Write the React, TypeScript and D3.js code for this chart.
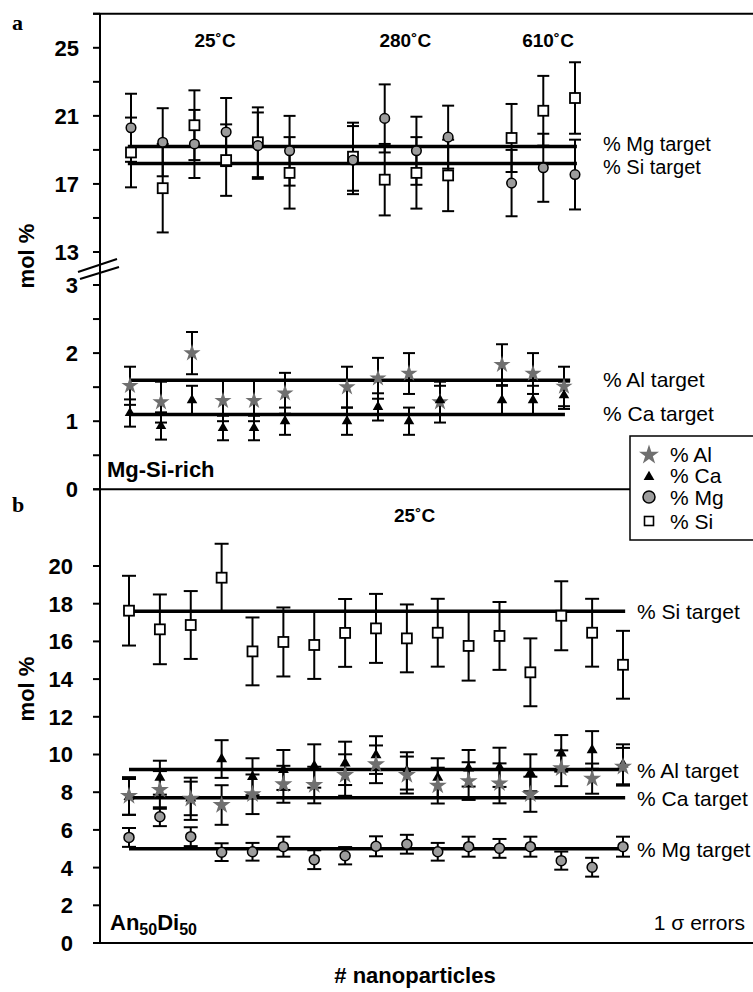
import React from "react";
import * as d3 from "d3";

// ---------- Panel a (Mg-Si-rich) ----------
const idxA = [0, 1, 2, 3, 4, 5, 7, 8, 9, 10, 12, 13, 14];
const mgA = [20.3, 19.45, 19.35, 20.05, 19.25, 18.95, 18.4, 20.85, 18.95, 19.75, 17.05, 17.95, 17.55];
const mgErrA = [2.0, 2.0, 2.0, 2.0, 1.95, 2.05, 2.0, 2.0, 2.0, 1.85, 1.95, 2.0, 2.05];
const siA = [18.85, 16.75, 20.45, 18.4, 19.45, 17.65, 18.6, 17.25, 17.65, 17.5, 19.7, 21.3, 22.05];
const siErrA = [2.05, 2.6, 2.05, 2.1, 2.05, 2.1, 2.0, 2.1, 2.1, 2.1, 2.0, 2.05, 2.1];
const alA = [1.52, 1.28, 2.0, 1.3, 1.3, 1.41, 1.5, 1.63, 1.7, 1.28, 1.83, 1.7, 1.51];
const alErrA = [0.28, 0.3, 0.31, 0.3, 0.3, 0.3, 0.3, 0.3, 0.3, 0.3, 0.3, 0.3, 0.29];
const caA = [1.12, 0.93, 1.31, 0.9, 0.9, 1.0, 1.0, 1.21, 1.0, 1.31, 1.31, 1.31, 1.38];
const caErrA = [0.2, 0.2, 0.21, 0.18, 0.18, 0.2, 0.2, 0.2, 0.2, 0.21, 0.21, 0.21, 0.2];
const targetNamesAU = ["% Mg target", "% Si target"];
const targetValsAU = [19.2, 18.2];
const targetNamesAL = ["% Al target", "% Ca target"];
const targetValsAL = [1.6, 1.1];
const tempLabelsA = ["25˚C", "280˚C", "610˚C"];
const tempIdxA = [2.65, 8.65, 13.15];
const ticksAU = [13, 15, 17, 19, 21, 23, 25, 27];
const labelsAU = [13, 17, 21, 25];
const ticksAL = [0, 0.5, 1, 1.5, 2, 2.5, 3];
const labelsAL = [0, 1, 2, 3];

// ---------- Panel b (An50Di50) ----------
const idxB = d3.range(17);
const siB = [17.63, 16.64, 16.87, 19.38, 15.47, 15.97, 15.81, 16.45, 16.69, 16.16, 16.46, 15.76, 16.29, 14.36, 17.36, 16.46, 14.76];
const siErrB = [1.85, 1.85, 1.8, 1.8, 1.8, 1.83, 1.8, 1.8, 1.83, 1.8, 1.8, 1.84, 1.8, 1.8, 1.83, 1.8, 1.8];
const alB = [7.8, 8.12, 7.65, 7.32, 7.89, 8.42, 8.38, 8.91, 9.48, 8.91, 8.35, 8.59, 8.47, 7.89, 9.27, 8.72, 9.35];
const alErrB = [1.0, 1.0, 1.12, 1.05, 1.05, 0.98, 0.97, 1.1, 1.0, 0.98, 0.95, 1.0, 1.06, 0.93, 0.95, 0.8, 1.0];
const caB = [7.75, 8.77, 7.67, 9.76, 8.82, 9.18, 9.39, 9.53, 9.97, 9.13, 8.77, 9.27, 9.32, 9.03, 10.06, 10.24, 9.48];
const caErrB = [0.95, 0.9, 0.89, 1.0, 0.98, 1.06, 1.15, 1.15, 1.0, 0.99, 1.03, 0.97, 1.04, 0.98, 0.97, 1.0, 1.06];
const mgB = [5.6, 6.7, 5.64, 4.82, 4.84, 5.11, 4.42, 4.63, 5.13, 5.24, 4.84, 5.11, 5.02, 5.11, 4.37, 4.02, 5.11];
const mgErrB = [0.5, 0.5, 0.5, 0.47, 0.47, 0.53, 0.5, 0.46, 0.53, 0.5, 0.47, 0.53, 0.5, 0.53, 0.48, 0.5, 0.53];
const targetNamesB = ["% Si target", "% Al target", "% Ca target", "% Mg target"];
const targetValsB = [17.6, 9.2, 7.7, 5.0];
const ticksB = [0, 2, 4, 6, 8, 10, 12, 14, 16, 18, 20];

const legendNames = ["% Al", "% Ca", "% Mg", "% Si"];

const SANS = "'Liberation Sans', Arial, Helvetica, sans-serif";
const SERIF = "'Liberation Serif', 'Times New Roman', serif";
const STAR_COLOR = "#6f6f6f";
const MG_COLOR = "#9c9c9c";

const starPath = (R: number) => d3.symbol(d3.symbolStar, (R * R) / 0.8908130915)() as string;
const triPath = (s: number) => d3.symbol(d3.symbolTriangle, s)() as string;

type EBProps = {
  idx: number[];
  vals: number[];
  errs: number[];
  x: (v: number) => number;
  y: (v: number) => number;
  cap: number;
};
function ErrorBars({ idx, vals, errs, x, y, cap }: EBProps) {
  return (
    <g stroke="#000" strokeWidth={2} fill="none">
      {idx.map((k, i) => {
        const cx = x(k);
        const y1 = y(vals[i] + errs[i]);
        const y2 = y(vals[i] - errs[i]);
        return (
          <g key={i}>
            <line x1={cx} x2={cx} y1={y1} y2={y2} />
            <line x1={cx - cap} x2={cx + cap} y1={y1} y2={y1} />
            <line x1={cx - cap} x2={cx + cap} y1={y2} y2={y2} />
          </g>
        );
      })}
    </g>
  );
}

export default function App() {
  const W = 753;
  const H = 992;
  const axisX = 100;

  // scales
  const yAU = d3.scaleLinear().domain([13, 25]).range([252, 47.8]);
  const yAL = d3.scaleLinear().domain([0, 3]).range([489.3, 285]);
  const yB = d3.scaleLinear().domain([0, 20]).range([943, 566]);
  const xAU = d3.scaleLinear().domain([0, 14]).range([131, 575]);
  const xAL = d3.scaleLinear().domain([0, 14]).range([130, 564]);
  const xB = d3.scaleLinear().domain([0, 16]).range([129, 623]);

  const yTop = yAU(27);
  const yMidLine = yAL(0);
  const yBottom = yB(0);

  const tickLen = 7;
  const labelFont = 22;

  const sq = (cx: number, cy: number, key: any, half = 5) => (
    <rect key={key} x={cx - half} y={cy - half} width={half * 2} height={half * 2} fill="#fff" stroke="#000" strokeWidth={1.8} />
  );

  // break position
  const brk1 = yAU(13) + 9;
  const brk2 = yAL(3) - 12;

  return (
    <svg width={W} height={H} style={{ position: "absolute", left: 0, top: 0, background: "#fff" }}>
      <rect x={0} y={0} width={W} height={H} fill="#fff" />

      {/* ===== Axes frame ===== */}
      <g stroke="#000" strokeWidth={2}>
        <line x1={axisX} x2={axisX} y1={yTop} y2={yBottom} />
        <line x1={axisX - tickLen} x2={W} y1={yTop} y2={yTop} />
        <line x1={axisX - tickLen} x2={630} y1={yMidLine} y2={yMidLine} />
        <line x1={axisX - tickLen} x2={W} y1={yBottom} y2={yBottom} />
      </g>

      {/* ticks */}
      <g stroke="#000" strokeWidth={2}>
        {ticksAU.map((t) => (
          <line key={"tu" + t} x1={axisX - tickLen} x2={axisX} y1={yAU(t)} y2={yAU(t)} />
        ))}
        {ticksAL.map((t) => (
          <line key={"tl" + t} x1={axisX - tickLen} x2={axisX} y1={yAL(t)} y2={yAL(t)} />
        ))}
        {ticksB.map((t) => (
          <line key={"tb" + t} x1={axisX - tickLen} x2={axisX} y1={yB(t)} y2={yB(t)} />
        ))}
      </g>
      {/* axis break marks */}
      <g stroke="#000" strokeWidth={2}>
        <line x1={78} y1={brk2 - 1} x2={117} y2={brk1 - 2} />
        <line x1={80} y1={brk2 + 6} x2={119} y2={brk1 + 6} />
      </g>

      {/* tick labels */}
      <g fontFamily={SANS} fontWeight="bold" fontSize={labelFont} fill="#000" textAnchor="end">
        {labelsAU.map((t) => (
          <text key={"lu" + t} x={79} y={yAU(t)} dy="0.36em">{t}</text>
        ))}
        {labelsAL.map((t) => (
          <text key={"ll" + t} x={78} y={yAL(t)} dy="0.36em">{t}</text>
        ))}
        {ticksB.map((t) => (
          <text key={"lb" + t} x={73} y={yB(t)} dy="0.36em">{t}</text>
        ))}
      </g>

      {/* y-axis titles */}
      <g fontFamily={SANS} fontWeight="bold" fontSize={22} fill="#000" textAnchor="middle">
        <text transform={`translate(34,256) rotate(-90)`}>mol %</text>
        <text transform={`translate(34,689) rotate(-90)`}>mol %</text>
      </g>

      {/* panel letters */}
      <g fontFamily={SERIF} fontWeight="bold" fontSize={22} fill="#000">
        <text x={12} y={30}>a</text>
        <text x={12} y={512}>b</text>
      </g>

      {/* temperature labels */}
      <g fontFamily={SANS} fontWeight="bold" fontSize={19} fill="#000" textAnchor="middle">
        {tempLabelsA.map((t, i) => (
          <text key={t} x={xAU(tempIdxA[i])} y={47}>{t}</text>
        ))}
        <text x={xB(9.25)} y={522}>25˚C</text>
      </g>

      {/* ===== targets ===== */}
      <g stroke="#000" strokeWidth={3.5}>
        {targetValsAU.map((v, i) => (
          <line key={"tau" + i} x1={xAU(-0.1)} x2={xAU(14.06)} y1={yAU(v)} y2={yAU(v)} />
        ))}
        {targetValsAL.map((v, i) => (
          <line key={"tal" + i} x1={xAL(0)} x2={xAL(i === 0 ? 14.2 : 14.03)} y1={yAL(v)} y2={yAL(v)} />
        ))}
        {targetValsB.map((v, i) => (
          <line key={"tb" + i} x1={xB(0)} x2={xB(16.07)} y1={yB(v)} y2={yB(v)} />
        ))}
      </g>
      <g fontFamily={SANS} fontSize={20} fill="#000">
        {targetNamesAU.map((n, i) => (
          <text key={n + "au"} x={603} y={yAU(targetValsAU[i]) + (i === 0 ? 5 : 10)}>{n}</text>
        ))}
      </g>
      <g fontFamily={SANS} fontSize={21} fill="#000">
        {targetNamesAL.map((n, i) => (
          <text key={n + "al"} x={603} y={yAL(targetValsAL[i]) + 7}>{n}</text>
        ))}
        {targetNamesB.map((n, i) => (
          <text key={n + "b"} x={637} y={yB(targetValsB[i]) + 8}>{n}</text>
        ))}
      </g>

      {/* ===== Panel a upper data ===== */}
      <ErrorBars idx={idxA} vals={siA} errs={siErrA} x={xAU} y={yAU} cap={6} />
      <ErrorBars idx={idxA} vals={mgA} errs={mgErrA} x={xAU} y={yAU} cap={6} />
      <g>{idxA.map((k, i) => sq(xAU(k), yAU(siA[i]), "sa" + i))}</g>
      <g>
        {idxA.map((k, i) => (
          <circle key={"ma" + i} cx={xAU(k)} cy={yAU(mgA[i])} r={4.8} fill={MG_COLOR} stroke="#000" strokeWidth={1.5} />
        ))}
      </g>

      {/* ===== Panel a lower data ===== */}
      <ErrorBars idx={idxA} vals={alA} errs={alErrA} x={xAL} y={yAL} cap={6} />
      <ErrorBars idx={idxA} vals={caA} errs={caErrA} x={xAL} y={yAL} cap={6} />
      <g>
        {idxA.map((k, i) => (
          <path key={"aa" + i} d={starPath(9)} transform={`translate(${xAL(k)},${yAL(alA[i])})`} fill={STAR_COLOR} />
        ))}
      </g>
      <g>
        {idxA.map((k, i) => (
          <path key={"ca" + i} d={triPath(48)} transform={`translate(${xAL(k)},${yAL(caA[i])})`} fill="#000" />
        ))}
      </g>
      <text x={107} y={477} fontFamily={SANS} fontWeight="bold" fontSize={22} fill="#000">Mg-Si-rich</text>

      {/* ===== Panel b data ===== */}
      <ErrorBars idx={idxB} vals={siB} errs={siErrB} x={xB} y={yB} cap={7} />
      <ErrorBars idx={idxB} vals={caB} errs={caErrB} x={xB} y={yB} cap={7} />
      <ErrorBars idx={idxB} vals={alB} errs={alErrB} x={xB} y={yB} cap={7} />
      <ErrorBars idx={idxB} vals={mgB} errs={mgErrB} x={xB} y={yB} cap={7} />
      <g>{idxB.map((k, i) => sq(xB(k), yB(siB[i]), "sb" + i))}</g>
      <g>
        {idxB.map((k, i) => (
          <path key={"cb" + i} d={triPath(52)} transform={`translate(${xB(k)},${yB(caB[i])})`} fill="#000" />
        ))}
      </g>
      <g>
        {idxB.map((k, i) => (
          <path key={"ab" + i} d={starPath(9.5)} transform={`translate(${xB(k)},${yB(alB[i])})`} fill={STAR_COLOR} />
        ))}
      </g>
      <g>
        {idxB.map((k, i) => (
          <circle key={"mb" + i} cx={xB(k)} cy={yB(mgB[i])} r={5} fill={MG_COLOR} stroke="#000" strokeWidth={1.5} />
        ))}
      </g>

      <text x={110} y={930} fontFamily={SANS} fontWeight="bold" fontSize={22} fill="#000">
        An<tspan fontSize={16} dy={5}>50</tspan>
        <tspan dy={-5}>Di</tspan>
        <tspan fontSize={16} dy={5}>50</tspan>
      </text>
      <text x={745} y={930} textAnchor="end" fontFamily={SANS} fontSize={21} fill="#000">1 σ errors</text>

      <text x={415} y={983} textAnchor="middle" fontFamily={SANS} fontWeight="bold" fontSize={22} fill="#000"># nanoparticles</text>

      {/* ===== Legend ===== */}
      <rect x={630} y={436} width={140} height={104} fill="#fff" stroke="#000" strokeWidth={1.5} />
      <g>
        <path d={starPath(10.5)} transform={`translate(649,455)`} fill={STAR_COLOR} />
        <path d={triPath(50)} transform={`translate(649,477)`} fill="#000" />
        <circle cx={649} cy={497} r={6} fill={MG_COLOR} stroke="#000" strokeWidth={1.5} />
        <rect x={644.5} y={516.5} width={9} height={9} fill="#fff" stroke="#000" strokeWidth={1.6} />
      </g>
      <g fontFamily={SANS} fontSize={21} fill="#000">
        {legendNames.map((n, i) => (
          <text key={n} x={670} y={[462, 483, 505, 529][i]}>{n}</text>
        ))}
      </g>
    </svg>
  );
}
